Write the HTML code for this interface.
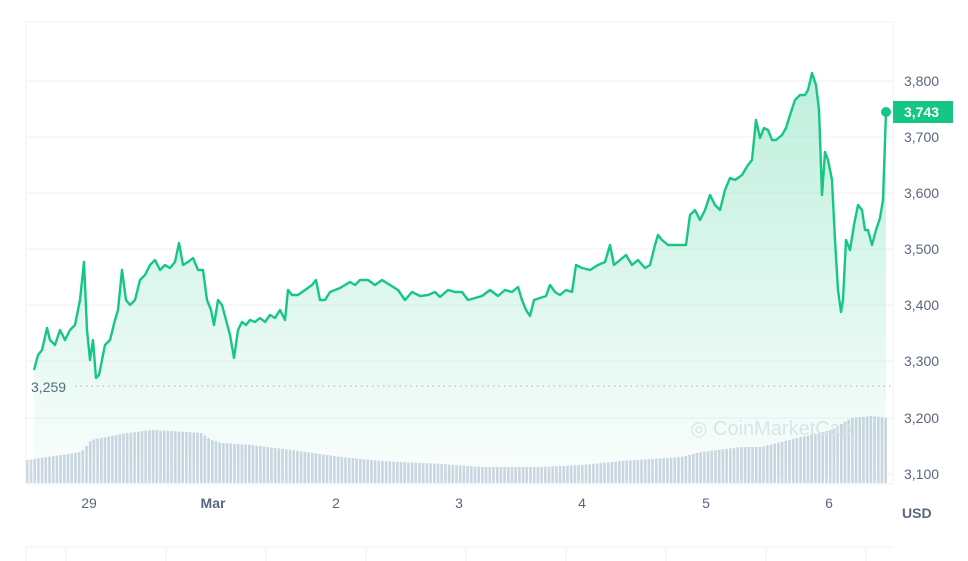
<!DOCTYPE html>
<html><head><meta charset="utf-8"><style>
html,body{margin:0;padding:0;background:#fff;width:968px;height:561px;overflow:hidden}
svg{display:block;font-family:"Liberation Sans",Arial,sans-serif}
</style></head><body>
<svg id="s" width="968" height="561" viewBox="0 0 968 561">
<defs>
<linearGradient id="g" x1="0" y1="0" x2="0" y2="1">
<stop offset="0" stop-color="#16c784" stop-opacity="0.28"/>
<stop offset="1" stop-color="#16c784" stop-opacity="0.02"/>
</linearGradient>
</defs>
<rect x="26" y="22" width="867" height="462" fill="none" stroke="#eff2f5"/>
<g stroke="#eff2f5" stroke-width="1">
<line x1="26" x2="893" y1="81" y2="81"/><line x1="26" x2="893" y1="137" y2="137"/>
<line x1="26" x2="893" y1="193" y2="193"/><line x1="26" x2="893" y1="249" y2="249"/>
<line x1="26" x2="893" y1="305" y2="305"/><line x1="26" x2="893" y1="361" y2="361"/>
<line x1="26" x2="893" y1="418" y2="418"/><line x1="26" x2="893" y1="474" y2="474"/>
</g>
<g id="vol" fill="#cfd6e4"></g>
<text x="690" y="435" font-size="20" fill="#e3e7ee">◎ CoinMarketCap</text>
<line x1="75" x2="893" y1="386" y2="386" stroke="#a6b0c3" stroke-dasharray="1.5,4"/>
<text x="31" y="392" font-size="14" fill="#58667e">3,259</text>
<path id="area" fill="url(#g)"/>
<path id="line" fill="none" stroke="#16c784" stroke-width="2.4" stroke-linejoin="round"/>
<circle cx="886" cy="112" r="5" fill="#16c784"/>
<rect x="893" y="101" width="60" height="22" fill="#16c784"/>
<text x="904" y="117" font-size="14" fill="#fff" font-weight="bold">3,743</text>
<g font-size="14" fill="#58667e">
<text x="904" y="86">3,800</text><text x="904" y="142">3,700</text>
<text x="904" y="198">3,600</text><text x="904" y="254">3,500</text>
<text x="904" y="310">3,400</text><text x="904" y="366">3,300</text>
<text x="904" y="423">3,200</text><text x="904" y="479">3,100</text>
</g>
<text x="902" y="518" font-size="14" fill="#58667e" font-weight="bold">USD</text>
<g font-size="14" fill="#58667e" text-anchor="middle">
<text x="89" y="508">29</text><text x="213" y="508" font-weight="bold">Mar</text>
<text x="336" y="508">2</text><text x="459" y="508">3</text><text x="582" y="508">4</text>
<text x="706" y="508">5</text><text x="829" y="508">6</text>
</g>
<g stroke="#eff2f5"><line x1="26" x2="893" y1="547" y2="547"/>
<line x1="26" x2="26" y1="547" y2="561"/><line x1="66" x2="66" y1="547" y2="561"/><line x1="166" x2="166" y1="547" y2="561"/><line x1="266" x2="266" y1="547" y2="561"/><line x1="366" x2="366" y1="547" y2="561"/><line x1="466" x2="466" y1="547" y2="561"/><line x1="566" x2="566" y1="547" y2="561"/><line x1="666" x2="666" y1="547" y2="561"/><line x1="766" x2="766" y1="547" y2="561"/><line x1="866" x2="866" y1="547" y2="561"/></g>
</svg>
<script>
var p=[[34,370],[38,355],[42,350],[47,328],[50,340],[55,345],[60,330],[65,340],[70,330],[75,325],[80,300],[84,262],[87,330],[90,360],[93,340],[96,378],[99,375],[102,360],[105,345],[110,340],[115,320],[118,310],[122,270],[126,300],[130,305],[135,300],[140,280],[145,275],[150,265],[155,260],[160,270],[165,265],[170,268],[175,262],[179,243],[183,265],[188,262],[193,258],[198,270],[203,270],[207,300],[211,310],[214,325],[218,300],[222,305],[226,320],[230,335],[234,358],[238,330],[242,322],[246,325],[250,320],[255,322],[260,318],[265,322],[270,315],[275,318],[280,310],[285,320],[288,290],[292,295],[298,295],[305,290],[312,285],[316,280],[320,300],[325,300],[330,292],[335,290],[340,288],[345,285],[350,282],[355,285],[360,280],[368,280],[375,285],[382,280],[390,285],[398,290],[405,300],[412,292],[420,296],[428,295],[435,292],[440,297],[448,290],[455,292],[462,292],[468,300],[475,298],[482,296],[490,290],[498,296],[505,290],[512,292],[518,287],[522,300],[526,310],[530,316],[534,300],[540,298],[546,296],[550,285],[555,292],[560,295],[566,290],[572,292],[576,265],[582,268],[590,270],[598,265],[605,262],[610,245],[614,265],[620,260],[626,255],[632,265],[638,260],[645,268],[650,265],[655,245],[658,235],[662,240],[668,245],[675,245],[682,245],[686,245],[690,215],[695,210],[700,220],[705,210],[710,195],[715,205],[720,210],[725,190],[730,178],[735,180],[742,175],[748,165],[752,160],[756,120],[760,138],[764,128],[768,130],[772,140],[776,140],[782,135],[786,128],[790,115],[795,100],[800,95],[805,95],[808,90],[812,73],[816,85],[819,110],[822,195],[825,152],[828,160],[832,180],[835,240],[838,290],[841,312],[843,300],[846,240],[850,250],[854,225],[858,205],[862,210],[865,230],[868,230],[872,245],[876,230],[880,218],[883,200],[886,112]];
var d="M"+p.map(function(a){return a[0]+","+a[1]}).join(" L");
document.getElementById("line").setAttribute("d",d);
document.getElementById("area").setAttribute("d",d+" L886,484 L34,484 Z");
var e=[[26,460],[60,455],[80,452],[90,440],[100,438],[120,434],[150,430],[170,431],[200,433],[210,440],[220,443],[250,445],[290,450],[340,457],[380,461],[440,464],[480,467],[540,467],[580,465],[620,461],[680,457],[700,452],[740,447],[760,447],[800,437],[830,430],[850,418],[870,416],[887,418]];
function env(x){for(var i=1;i<e.length;i++){if(x<=e[i][0]){var t=(x-e[i-1][0])/(e[i][0]-e[i-1][0]);return e[i-1][1]+t*(e[i][1]-e[i-1][1]);}}return 418;}
var g=document.getElementById("vol"),h="";
for(var x=26;x<886;x+=3.7){var y=env(x);h+='<rect x="'+x.toFixed(1)+'" y="'+y.toFixed(1)+'" width="2.6" height="'+(483-y).toFixed(1)+'"/>';}
g.innerHTML=h;
</script>
</body></html>
